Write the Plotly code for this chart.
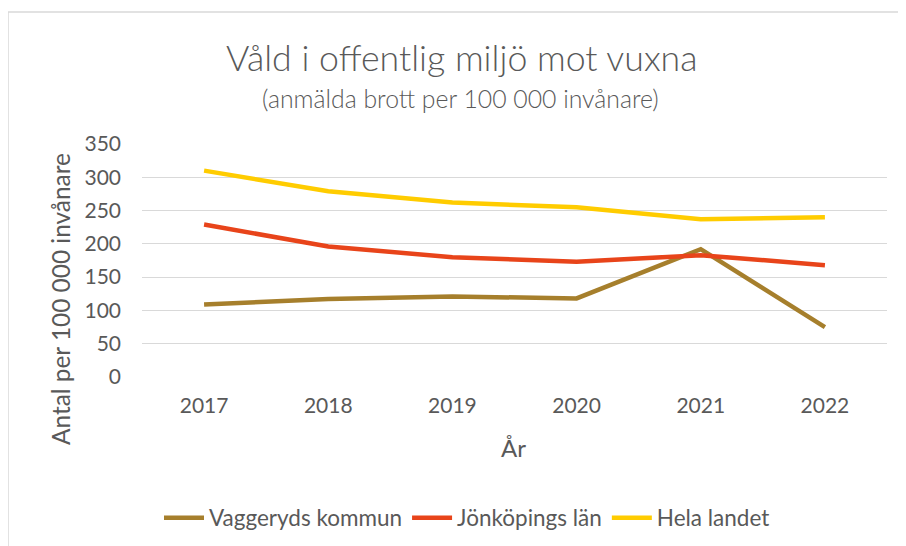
import plotly.graph_objects as go

years = ["2017", "2018", "2019", "2020", "2021", "2022"]
vaggeryd = [109, 117, 121, 118, 192, 75]
jonkoping = [229, 196, 180, 173, 183, 168]
hela_landet = [310, 279, 262, 255, 237, 240]
series_names = ["Vaggeryds kommun", "Jönköpings län", "Hela landet"]
series_colors = ["#A67F2C", "#E8441A", "#FFCC00"]
y_ticks = [0, 50, 100, 150, 200, 250, 300, 350]

FONT = "Lato"
GREY = "#595959"

fig = go.Figure()
for name, vals, col in zip(series_names, [vaggeryd, jonkoping, hela_landet], series_colors):
    fig.add_trace(go.Scatter(x=years, y=vals, mode="lines", name=name,
                             line=dict(color=col, width=4.5)))

# page body has an 8px default margin; target positions are in screenshot pixels
OFF = 8
W, H = 906, 546
L = 142 - OFF
T = 144 - OFF
R = W - (887 - OFF)
B = H - (377 - OFF)
pw, ph = W - L - R, H - T - B

def px(p):
    return (p - OFF - L) / pw

def py(p):
    return (H - B - (p - OFF)) / ph

fig.update_layout(
    width=W, height=H,
    margin=dict(l=L, r=R, t=T, b=B, autoexpand=False),
    paper_bgcolor="white", plot_bgcolor="white",
    font=dict(family=FONT, color=GREY, size=20),
    showlegend=True,
    legend=dict(orientation="h", x=px(467), xanchor="center", y=py(518), yanchor="middle",
                font=dict(size=22.5, color=GREY), itemwidth=40),
    xaxis=dict(type="category", range=[-0.5, 5.5], showgrid=False, showline=False, zeroline=False,
               automargin=False, tickfont=dict(size=21, color=GREY), ticklabelstandoff=14),
    yaxis=dict(range=[0, 350], tickvals=y_ticks, showgrid=True, gridcolor="#D9D9D9",
               gridwidth=1, zeroline=False, showline=False, automargin=False,
               tickfont=dict(size=21, color=GREY), ticklabelstandoff=20),
    annotations=[
        dict(text="Våld i offentlig miljö mot vuxna", x=px(462), y=py(57), xref="paper", yref="paper",
             xanchor="center", yanchor="middle", showarrow=False,
             font=dict(size=35.7, color=GREY, weight=300)),
        dict(text="(anmälda brott per 100 000 invånare)", x=px(460), y=py(98), xref="paper", yref="paper",
             xanchor="center", yanchor="middle", showarrow=False,
             font=dict(size=24.8, color=GREY, weight=300)),
        dict(text="År", x=px(513), y=py(447), xref="paper", yref="paper",
             xanchor="center", yanchor="middle", showarrow=False, font=dict(size=24, color=GREY)),
        dict(text="Antal per 100 000 invånare", x=px(60), y=py(299), xref="paper", yref="paper",
             xanchor="center", yanchor="middle", textangle=-90, showarrow=False,
             font=dict(size=24.4, color=GREY)),
    ],
    shapes=[
        dict(type="line", xref="paper", yref="paper", x0=px(8), x1=px(W + 20), y0=py(12), y1=py(12),
             line=dict(color="#D9D9D9", width=1.5)),
        dict(type="line", xref="paper", yref="paper", x0=px(8), x1=px(8), y0=py(12), y1=py(H + 20),
             line=dict(color="#D9D9D9", width=1.5)),
    ],
)

fig.write_html("out.html")
